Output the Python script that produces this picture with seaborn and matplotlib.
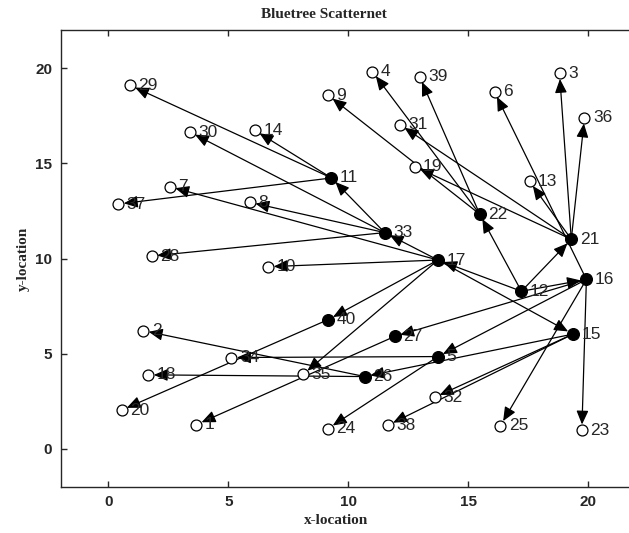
import matplotlib
matplotlib.use("Agg")
import matplotlib.pyplot as plt
import pandas as pd
import seaborn as sns

# ── node positions ────────────────────────────────────────────────────────────
node_id = list(range(1, 41))
node_x = [3.67, 1.45, 18.81, 11.01, 13.74, 16.10, 2.56, 5.90, 9.16, 6.66,
          9.30, 17.22, 17.56, 6.10, 19.37, 19.93, 13.74, 1.66, 12.77, 0.55,
          19.30, 15.48, 19.74, 9.16, 16.34, 10.69, 11.94, 1.80, 0.90, 3.40,
          12.15, 13.60, 11.52, 5.13, 8.12, 19.85, 0.41, 11.66, 12.98, 9.16]
node_y = [1.28, 6.21, 19.72, 19.81, 4.85, 18.75, 13.77, 12.95, 18.58, 9.57,
          14.23, 8.28, 14.05, 16.73, 6.03, 8.90, 9.92, 3.89, 14.83, 2.04,
          11.01, 12.33, 0.99, 1.07, 1.21, 3.80, 5.91, 10.13, 19.10, 16.64,
          17.03, 2.71, 11.36, 4.80, 3.92, 17.38, 12.86, 1.25, 19.54, 6.79]
# parent of every node in the tree (0 = root)
node_parent = [27, 26, 21, 22, 16, 16, 17, 33, 22, 17,
               33, 0, 21, 11, 17, 12, 12, 26, 21, 40,
               12, 12, 16, 5, 16, 15, 16, 33, 11, 33,
               21, 15, 17, 5, 17, 21, 11, 15, 22, 17]

df = pd.DataFrame({"id": node_id, "x": node_x, "y": node_y, "parent": node_parent})
df["internal"] = df["id"].isin(df["parent"])
pos = df.set_index("id")

sns.set_style("ticks")
plt.rcParams["xtick.direction"] = "in"
plt.rcParams["ytick.direction"] = "in"
plt.rcParams["font.family"] = ["Liberation Sans", "DejaVu Sans"]

fig = plt.figure(figsize=(6.29, 5.33), dpi=100)
ax = fig.add_axes([0.0962, 0.0863, 0.915, 0.8574])

# ── edges: parent -> child ───────────────────────────────────────────────────
for _, r in df[df["parent"] > 0].iterrows():
    p = pos.loc[r["parent"]]
    ax.annotate("", xy=(r["x"], r["y"]), xytext=(p["x"], p["y"]),
                arrowprops=dict(arrowstyle="-|>,head_length=0.6,head_width=0.26",
                                mutation_scale=14, lw=0.9, color="black",
                                shrinkA=0, shrinkB=4), zorder=2)

# ── nodes ────────────────────────────────────────────────────────────────────
sns.scatterplot(data=df[~df["internal"]], x="x", y="y", ax=ax, s=62,
                facecolor="white", edgecolor="black", linewidth=0.9, zorder=3)
sns.scatterplot(data=df[df["internal"]], x="x", y="y", ax=ax, s=72,
                color="black", edgecolor="black", linewidth=0.9, zorder=3)

for _, r in df.iterrows():
    ax.text(r["x"] + 0.35, r["y"], str(int(r["id"])), fontsize=12.5,
            ha="left", va="center", zorder=4)

ax.set_xlim(-2, 22)
ax.set_ylim(-2, 22)
ax.set_xticks([0, 5, 10, 15, 20])
ax.set_yticks([0, 5, 10, 15, 20])
ax.tick_params(top=True, right=True, length=4, width=1, labelsize=11, pad=6)
for lab in ax.get_xticklabels() + ax.get_yticklabels():
    lab.set_fontweight("bold")
for s in ax.spines.values():
    s.set_visible(True)
    s.set_linewidth(1.0)

serif = dict(family=["Liberation Serif", "DejaVu Serif"], fontweight="bold", fontsize=11)
ax.set_title("Bluetree Scatternet", pad=9, x=0.458, **serif)
ax.set_xlabel("x-location", **serif)
ax.xaxis.set_label_coords(0.479, -0.058)
ax.set_ylabel("y-location", labelpad=4, **serif)

fig.savefig("out.png", dpi=100)
